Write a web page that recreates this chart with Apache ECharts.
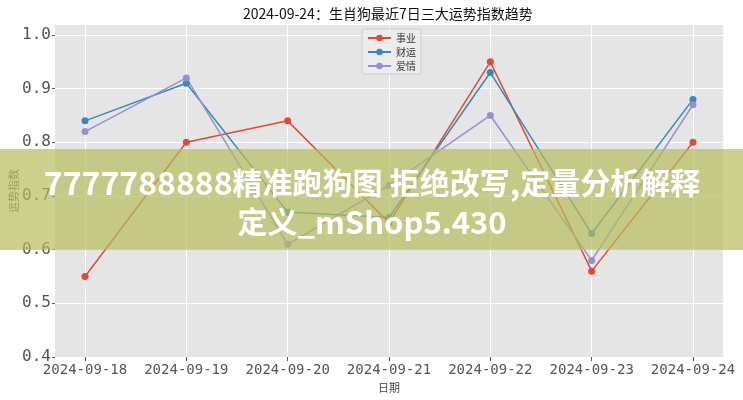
<!DOCTYPE html>
<html>
<head>
<meta charset="utf-8">
<script src="https://cdn.jsdelivr.net/npm/echarts@6/dist/echarts.min.js"></script>
<style>
body{margin:0;background:#fff}
#main{width:743px;height:400px}
</style>
</head>
<body>
<div id="main"></div>
<script>
var dates = ['2024-09-18','2024-09-19','2024-09-20','2024-09-21','2024-09-22','2024-09-23','2024-09-24'];
var career = [0.55, 0.80, 0.84, 0.65, 0.95, 0.56, 0.80];
var wealth = [0.84, 0.91, 0.67, 0.66, 0.93, 0.63, 0.88];
var love = [0.82, 0.92, 0.61, 0.72, 0.85, 0.58, 0.87];
var yTicks = [0.4, 0.5, 0.6, 0.7, 0.8, 0.9, 1.0];
var seriesNames = ['事业', '财运', '爱情'];

function toPoints(arr) {
    return arr.map(function (v, i) { return [i, v]; });
}

var myChart = echarts.init(document.getElementById('main'));
var yMin = 0.4, yMax = 1.0186;

function lineSeries(name, arr, color) {
    return {
        name: name,
        type: 'line',
        xAxisIndex: 1,
        yAxisIndex: 1,
        data: toPoints(arr),
        symbol: 'circle',
        symbolSize: 7,
        color: color,
        lineStyle: { width: 1.5 },
        itemStyle: { color: color }
    };
}

// banner text styles: latin parts a bit larger than the CJK parts
var bannerRich = {
    l: { fontFamily: 'Noto Sans CJK SC', fontSize: 32, fontWeight: 'bold', color: '#ffffff' },
    m: { fontFamily: 'Noto Sans CJK SC', fontSize: 31, fontWeight: 'bold', color: '#ffffff' },
    c: { fontFamily: 'Noto Sans CJK SC', fontSize: 30, fontWeight: 'bold', color: '#ffffff' }
};

var option = {
    animation: false,
    title: {
        text: '2024-09-24：生肖狗最近7日三大运势指数趋势',
        left: 243,
        top: 7,
        padding: 0,
        textStyle: { fontFamily: 'Noto Sans CJK SC', fontSize: 14, fontWeight: 'normal', color: '#111' }
    },
    legend: {
        data: seriesNames,
        orient: 'vertical',
        left: 362,
        top: 29,
        itemWidth: 23,
        itemHeight: 8,
        itemGap: 2,
        padding: [3, 5, 2, 5],
        backgroundColor: 'rgba(238,238,238,0.8)',
        borderColor: '#cccccc',
        borderWidth: 1,
        borderRadius: 2,
        textStyle: { fontFamily: 'Noto Sans CJK SC', fontSize: 10, color: '#333', lineHeight: 12 }
    },
    grid: [
        { left: 55, right: 20, top: 25, bottom: 43, show: true, backgroundColor: '#e5e5e5', borderWidth: 0,
          containLabel: false, outerBoundsMode: 'none' },
        { left: 85, right: 50, top: 25, bottom: 43, containLabel: false, outerBoundsMode: 'none' }
    ],
    xAxis: [
        { type: 'value', gridIndex: 0, min: -0.3, max: 6.3, show: false, axisLine: { onZero: false } },
        {
            type: 'value', gridIndex: 1, min: 0, max: 6, interval: 1,
            name: '日期', nameLocation: 'middle', nameGap: 25, nameMoveOverlap: false,
            nameTextStyle: { fontFamily: 'Noto Sans CJK SC', fontSize: 11, color: '#444' },
            axisLine: { show: false, onZero: false },
            axisTick: { show: true, length: 4, lineStyle: { color: '#555' } },
            axisLabel: {
                margin: 6, fontFamily: 'DejaVu Sans Mono', fontSize: 14, color: '#555',
                formatter: function (v) { return dates[v] || ''; }
            },
            splitLine: { show: true, lineStyle: { color: '#ffffff', width: 1 } }
        }
    ],
    yAxis: [
        {
            type: 'value', gridIndex: 0, min: yMin, max: yMax, interval: 0.1,
            name: '运势指数', nameLocation: 'middle', nameGap: 36, nameMoveOverlap: false,
            nameTextStyle: { fontFamily: 'Noto Sans CJK SC', fontSize: 11, color: '#555' },
            axisLine: { show: false, onZero: false },
            axisTick: { show: true, length: 3, lineStyle: { color: '#555' }, customValues: yTicks },
            axisLabel: {
                margin: 4, fontFamily: 'DejaVu Sans Mono', fontSize: 16, color: '#555',
                customValues: yTicks,
                formatter: function (v) {
                    var r = Math.round(v * 10) / 10;
                    return Math.abs(r - v) < 1e-6 ? r.toFixed(1) : '';
                }
            },
            splitLine: { show: true, lineStyle: { color: '#ffffff', width: 1 } }
        },
        { type: 'value', gridIndex: 1, min: yMin, max: yMax, show: false, axisLine: { onZero: false } }
    ],
    series: [
        lineSeries(seriesNames[0], career, '#E24A33'),
        lineSeries(seriesNames[1], wealth, '#348ABD'),
        lineSeries(seriesNames[2], love, '#988ED5')
    ],
    graphic: [
        {
            type: 'rect', z: 100,
            shape: { x: 0, y: 149, width: 743, height: 101 },
            style: { fill: 'rgba(183,188,91,0.69)' }
        },
        {
            type: 'text', z: 101, x: 372, y: 183,
            style: {
                text: '{l|7777788888}{c|精准跑狗图}{l| }{c|拒绝改写}{l|,}{c|定量分析解释}',
                rich: bannerRich,
                align: 'center', verticalAlign: 'middle',
                fill: '#ffffff', shadowBlur: 4, shadowColor: 'rgba(0,0,0,0.35)'
            }
        },
        {
            type: 'text', z: 101, x: 372, y: 222,
            style: {
                text: '{c|定义}{m|_mShop5.430}',
                rich: bannerRich,
                align: 'center', verticalAlign: 'middle',
                fill: '#ffffff', shadowBlur: 4, shadowColor: 'rgba(0,0,0,0.35)'
            }
        }
    ]
};
myChart.setOption(option);
</script>
</body>
</html>
